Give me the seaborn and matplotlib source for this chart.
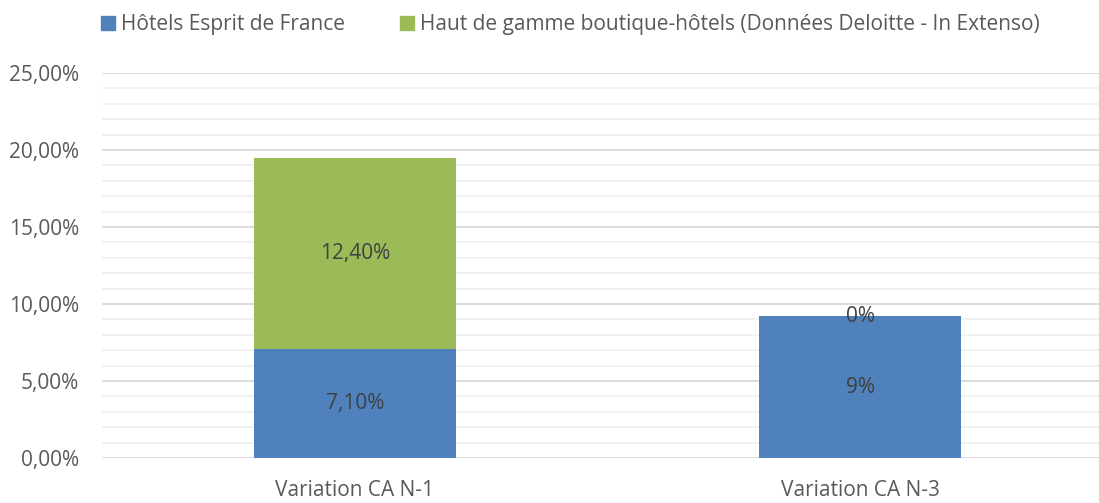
import matplotlib
matplotlib.use("Agg")
import matplotlib.pyplot as plt
import seaborn as sns
import pandas as pd
from matplotlib.ticker import MultipleLocator, FuncFormatter
from matplotlib.patches import Patch

categories = ["Variation CA N-1", "Variation CA N-3"]
series_names = ["Hôtels Esprit de France",
                "Haut de gamme boutique-hôtels (Données Deloitte - In Extenso)"]
esprit_values = [0.071, 0.092]
boutique_values = [0.124, 0.0]
label_decimals = [2, 0]

BLUE = "#4f81bd"
GREEN = "#9bbb59"
TEXT = "#595959"
FS = 15

sns.set_theme(style="white")
plt.rcParams["font.family"] = ["Open Sans", "DejaVu Sans"]

df = pd.DataFrame({"categorie": categories,
                   "esprit": esprit_values,
                   "boutique": boutique_values})

fig = plt.figure(figsize=(10.99, 5.03), dpi=100)
# the plot area runs slightly past the right edge of the figure
ax = fig.add_axes([102 / 1099, 1 - 458 / 503, 1011 / 1099, 385 / 503])

sns.barplot(data=df, x="categorie", y="esprit", color=BLUE, width=0.40,
            saturation=1, ax=ax, zorder=3)
sns.barplot(data=df, x="categorie", y="boutique", color=GREEN, width=0.40,
            saturation=1, ax=ax, bottom=df["esprit"], zorder=3)
for p in ax.patches:
    p.set_linewidth(0)


def pct(v, d):
    return f"{v * 100:.{d}f}%".replace(".", ",")


for i in range(len(categories)):
    b, t = esprit_values[i], boutique_values[i]
    d = label_decimals[i]
    ax.text(i, b / 2, pct(b, d), ha="center", va="center",
            fontsize=FS, color="#404040", zorder=5)
    ax.text(i, b + t / 2, pct(t, d), ha="center", va="center",
            fontsize=FS, color="#404040", zorder=5)

ax.set_xlim(-0.5, 1.5)
ax.set_ylim(0, 0.25)
ax.yaxis.set_major_locator(MultipleLocator(0.05))
ax.yaxis.set_minor_locator(MultipleLocator(0.01))
ax.yaxis.set_major_formatter(FuncFormatter(lambda v, _: pct(v, 2)))
ax.grid(axis="y", which="major", color="#d9d9d9", linewidth=1.3, zorder=0)
ax.grid(axis="y", which="minor", color="#f0f0f0", linewidth=1.3, zorder=0)
ax.set_axisbelow(True)
for s in ax.spines.values():
    s.set_visible(False)
ax.tick_params(axis="both", which="both", length=0, labelsize=FS,
               labelcolor=TEXT)
ax.tick_params(axis="y", pad=16.5)
ax.tick_params(axis="x", pad=16)
ax.set_xlabel("")
ax.set_ylabel("")

handles = [Patch(color=BLUE), Patch(color=GREEN)]
fig.legend(handles, series_names, loc="upper left", ncol=2, frameon=False,
           bbox_to_anchor=(90 / 1099, 1 - 3 / 503), fontsize=FS,
           labelcolor=TEXT, handlelength=0.67, handleheight=0.67,
           handletextpad=0.29, columnspacing=2.6, borderaxespad=0.15)

fig.savefig("out.png", dpi=100)
